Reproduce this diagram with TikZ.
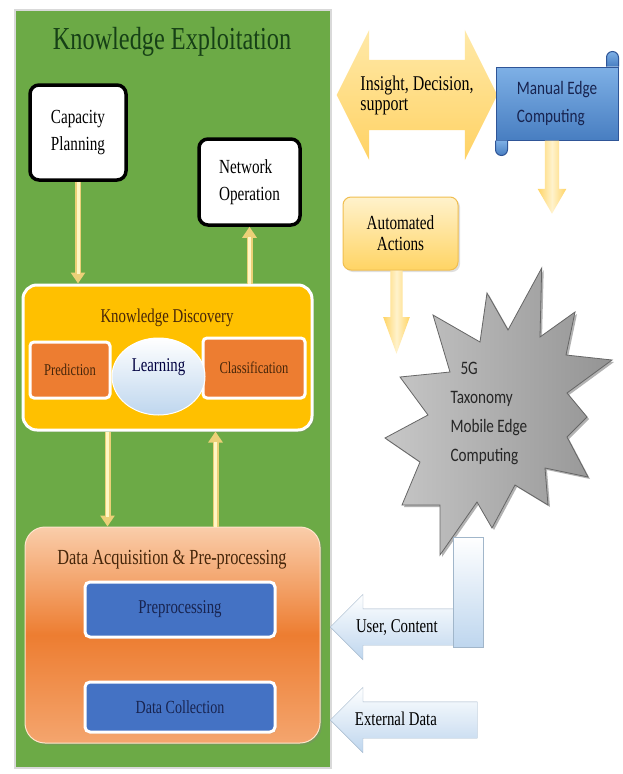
\documentclass[tikz,border=0pt]{standalone}
\usepackage{fontspec}
\setmainfont{Liberation Serif}[FakeStretch=0.76]
\newfontfamily\calibrifont{Carlito}[FakeStretch=0.8]
\usetikzlibrary{shapes.geometric, shapes.arrows, shadows, arrows.meta}

\definecolor{panelgreen}{RGB}{108,170,70}
\definecolor{kdgold}{RGB}{255,192,0}
\definecolor{boxorange}{RGB}{237,125,49}
\definecolor{boxblue}{RGB}{68,114,196}
\definecolor{paleyellow}{RGB}{255,246,196}
\definecolor{edgeyellow}{RGB}{236,208,120}
\definecolor{fatyellow}{RGB}{255,212,100}
\definecolor{creamyellow}{RGB}{255,242,204}
\definecolor{skyblue}{RGB}{190,214,238}
\definecolor{scrolltop}{RGB}{126,176,230}
\definecolor{scrollbottom}{RGB}{72,126,193}
\definecolor{scrolldark}{RGB}{47,85,151}
\definecolor{navytext}{RGB}{24,36,80}
\definecolor{browntext}{RGB}{70,38,10}
\definecolor{titlegreen}{RGB}{22,64,22}

\begin{document}
\begin{tikzpicture}[
    x=1pt, y=-1pt,
    fs/.style 2 args={font=\fontsize{#1}{#2}\selectfont},
    sans/.style 2 args={font=\calibrifont\fontsize{#1}{#2}\selectfont},
    panel/.style={draw=black!15, line width=1.5pt, fill=panelgreen, minimum width=316, minimum height=758},
    task/.style={draw=black, line width=3.5pt, fill=white, rounded corners=9pt, align=left, fs={20}{27}},
    yarrow/.style={line width=6pt, draw=edgeyellow, -{Triangle[width=14pt,length=11pt]},
        postaction={draw=paleyellow, line width=3pt, shorten >=10pt, -}},
    kdbox/.style={fill=kdgold, draw=white, line width=3pt, rounded corners=14pt,
        drop shadow={opacity=0.3, shadow xshift=2pt, shadow yshift=-2pt}},
    subbox/.style={fill=boxorange, draw=white, line width=3pt, rounded corners=4pt, text=browntext, fs={16.5}{20}},
    learnball/.style={ellipse, top color=white, bottom color=skyblue, draw=white, line width=1pt,
        minimum width=93, minimum height=77, text=black!75!blue, text depth=22pt, fs={19.5}{22}},
    dabox/.style={top color={rgb,255:red,250;green,205;blue,170}, bottom color={rgb,255:red,244;green,165;blue,110},
        middle color=boxorange, draw=white!80!orange, line width=1pt, rounded corners=20pt,
        drop shadow={opacity=0.3, shadow xshift=2pt, shadow yshift=-2pt}},
    blubox/.style={fill=boxblue, draw=white, line width=3pt, rounded corners=5pt, text=navytext, minimum width=190,
        drop shadow={opacity=0.25, shadow xshift=1.5pt, shadow yshift=-1.5pt}},
    fatdown/.style={single arrow, shape border rotate=270, left color=fatyellow, right color=fatyellow,
        middle color=creamyellow},
    actbox/.style={top color=creamyellow, bottom color=fatyellow, draw={rgb,255:red,240;green,190;blue,80}, line width=1pt,
        rounded corners=8pt, minimum width=115, minimum height=73, align=center, fs={20}{21},
        drop shadow={opacity=0.25, shadow xshift=2pt, shadow yshift=-2pt}},
    scroll/.style={top color=scrolltop, bottom color=scrollbottom, draw=scrolldark, line width=1pt},
    burst/.style={left color=black!22, right color=black!42, draw=black!60, line width=0.8pt,
        drop shadow={opacity=0.6, shadow xshift=2pt, shadow yshift=-2pt}},
    bluearrow/.style={single arrow, shape border rotate=180, single arrow head extend=14.5pt, single arrow tip angle=90,
        text height=14pt, text depth=4pt, inner ysep=9pt, inner xsep=0pt, top color=white, bottom color=skyblue,
        draw=skyblue!85!black, fs={19.5}{22}}
]
\path[use as bounding box, fill=white] (0,0) rectangle (623,774);

   % Knowledge exploitation panel
   \node[panel] (panel) at (173,389) {};
   \node[fs={32}{36}, text=titlegreen] (title) at (172,42) {Knowledge Exploitation};
   \node[task, minimum width=96, minimum height=95] (cap) at (78,132.5) {Capacity\\Planning};
   \node[task, minimum width=101, minimum height=86] (net) at (249.5,182) {Network\\Operation};

   % Knowledge discovery
   \node[kdbox, minimum width=289, minimum height=145] (kd) at (167.5,357.5) {};
   \node[fs={19.5}{22}, text=browntext] (kdtitle) at (167,318) {Knowledge Discovery};
   \node[subbox, minimum width=80, minimum height=56] (pred) at (70,370) {Prediction};
   \node[subbox, minimum width=102, minimum height=60] (class) at (254,368) {Classification};
   \node[learnball] (learn) at (158.5,376.5) {Learning};

   % Data acquisition
   \node[dabox, minimum width=295, minimum height=216] (da) at (172.5,635) {};
   \node[fs={21.5}{24}, text=browntext] (datitle) at (172,560) {Data Acquisition \& Pre-processing};
   \node[blubox, minimum height=55, fs={19.5}{22}] (prep) at (180,609.5) {Preprocessing};
   \node[blubox, minimum height=50, fs={18.5}{22}] (dcol) at (180,707) {Data Collection};

   % Flows inside the panel
   \path (cap) edge[yarrow] (cap.south |- kd.north)
         (net.south |- kd.north) edge[yarrow] (net)
         ([xshift=-60pt]kd.south) edge[yarrow] ([xshift=-60pt]kd.south |- da.north)
         ([xshift=48pt]kd.south |- da.north) edge[yarrow] ([xshift=48pt]kd.south);

   % Right side
   \node[double arrow, double arrow head extend=30pt, double arrow tip angle=127, minimum height=160,
         inner xsep=6pt, inner ysep=15.5pt, top color={rgb,255:red,255;green,233;blue,168},
         bottom color={rgb,255:red,255;green,210;blue,100}, align=left, fs={21}{20}]
         (insight) at (417,95) {Insight, Decision,\\support};
   \node[scroll, minimum width=122, minimum height=73, align=left, text=navytext, sans={19}{28}]
         (mec) at (557,103.5) {Manual Edge\\Computing};
   \draw[scroll] ([xshift=-12pt]mec.north east) -- ++(0,-9) arc[start angle=180, end angle=0, radius=6pt] -- (mec.north east);
   \draw[scroll] (mec.south west) -- ++(0,9) arc[start angle=180, end angle=360, radius=6pt] -- ([xshift=12pt]mec.south west);
   \node[fatdown, inner sep=7pt, minimum height=73, single arrow tip angle=60, anchor=tail]
         (mecdown) at ([xshift=-5pt]mec.south) {};

   \node[actbox] (auto) at (400.5,233.5) {Automated\\Actions};
   \node[fatdown, inner sep=6pt, minimum height=83, single arrow tip angle=40, anchor=tail]
         (autodown) at ([xshift=-4pt]auto.south) {};

   % 5G burst
   \draw[burst] (541.7,268) -- (540,337) -- (575,312) -- (566,355) -- (612,360) -- (567,393)
         -- (587,417) -- (567,437) -- (588,477) -- (545,468) -- (548,505) -- (515,485)
         -- (492,528) -- (477,502) -- (440,555) -- (440,505) -- (402,505) -- (420,462)
         -- (385,438) -- (428,415) -- (400,377) -- (450,372) -- (433,315) -- (480,342)
         -- (487,293) -- (508,330) -- cycle;
   \node[sans={19}{29}, align=left, text=black!85, anchor=west] (fiveg) at (447,413.5)
         {\hspace*{10pt}5G\\Taxonomy\\Mobile Edge\\Computing};

   % Inputs
   \node[bluearrow, minimum height=125, anchor=tip] (ucarrow) at (330,627) {User, Content\hspace*{10pt}};
   \node[top color=white, bottom color=skyblue, draw=skyblue!85!black, minimum width=30, minimum height=110]
         (ucbar) at (468,592) {};
   \node[bluearrow, minimum height=147, anchor=tip] (extarrow) at (330,720) {External Data\hspace*{34pt}};

\end{tikzpicture}
\end{document}
